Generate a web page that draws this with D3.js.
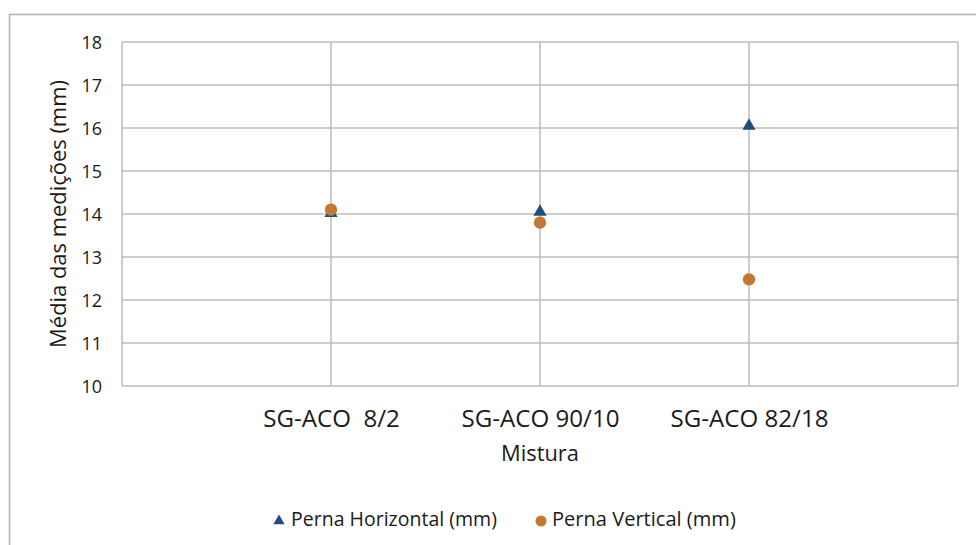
<!DOCTYPE html>
<html><head><meta charset="utf-8">
<script src="https://cdn.jsdelivr.net/npm/d3@7"></script>
<style>body{margin:0;background:#fff}svg{display:block}</style>
</head><body>
<script>
const categories = ["SG-ACO  8/2", "SG-ACO 90/10", "SG-ACO 82/18"];
const horizontal = [14.02, 14.05, 16.05];
const vertical = [14.1, 13.8, 12.48];
const yTicks = [10, 11, 12, 13, 14, 15, 16, 17, 18];
const seriesNames = ["Perna Horizontal (mm)", "Perna Vertical (mm)"];

const W = 976, H = 545;
const font = "'Open Sans', sans-serif";
const svg = d3.select("body").append("svg").attr("width", W).attr("height", H);
svg.append("rect").attr("x", 0).attr("y", 0).attr("width", W).attr("height", H).attr("fill", "#fff");
svg.append("path").attr("d", `M9.5,${H} V14.5 H${W}`).attr("fill", "none").attr("stroke", "#b0b0b0").attr("stroke-width", 1.5);

function fit(sel, target, base) {
  sel.attr("font-size", base);
  const w = sel.node().getComputedTextLength();
  sel.attr("font-size", base * target / w);
}

const L = 122, R = 958, T = 42, B = 386;
const x = d3.scaleLinear().domain([0, categories.length + 1]).range([L, R]);
const y = d3.scaleLinear().domain([10, 18]).range([B, T]);

const grid = svg.append("g").attr("stroke", "#bdbdbd").attr("stroke-width", 1.5);
yTicks.forEach(t => grid.append("line").attr("x1", L).attr("x2", R).attr("y1", y(t)).attr("y2", y(t)));
d3.range(0, categories.length + 2).forEach(i => grid.append("line").attr("x1", x(i)).attr("x2", x(i)).attr("y1", T).attr("y2", B));

const yAxis = svg.append("g").attr("transform", `translate(${L - 20},0)`)
  .call(d3.axisLeft(y).tickValues(yTicks).tickSize(0).tickPadding(0));
yAxis.select(".domain").remove();
yAxis.selectAll("text").attr("font-family", font).attr("font-size", 18).attr("fill", "#1a1a1a").attr("dy", "0.36em");

const xAxis = svg.append("g").attr("transform", `translate(0,${B})`)
  .call(d3.axisBottom(x).tickValues(d3.range(1, categories.length + 1)).tickFormat(i => categories[i - 1]).tickSize(0).tickPadding(0));
xAxis.select(".domain").remove();
xAxis.selectAll("text").attr("font-family", font).attr("fill", "#1a1a1a").attr("dy", 0).attr("y", 41).style("white-space", "pre");
const xl = xAxis.selectAll("text").nodes();
fit(d3.select(xl[1]), 158, 18);
const xfs = d3.select(xl[1]).attr("font-size");
xAxis.selectAll("text").attr("font-size", xfs);

const mt = svg.append("text").attr("x", (L + R) / 2).attr("y", 461).attr("text-anchor", "middle")
  .attr("font-family", font).attr("fill", "#1a1a1a").text("Mistura");
fit(mt, 78, 16);
const yt = svg.append("text").attr("transform", `translate(57,${(T + B) / 2}) rotate(-90)`).attr("text-anchor", "middle")
  .attr("dominant-baseline", "central")
  .attr("font-family", font).attr("fill", "#1a1a1a").text("Média das medições (mm)");
fit(yt, 268, 16);

const blue = "#1f4e79", orange = "#c47832";
const tri = d3.symbol().type(d3.symbolTriangle).size(75);
svg.append("g").selectAll("path").data(horizontal).join("path")
  .attr("d", tri).attr("fill", blue)
  .attr("transform", (d, i) => `translate(${x(i + 1)},${y(d)})`);
svg.append("g").selectAll("circle").data(vertical).join("circle")
  .attr("cx", (d, i) => x(i + 1)).attr("cy", d => y(d)).attr("r", 6.2).attr("fill", orange);

const lg = svg.append("g").attr("font-family", font).attr("fill", "#1a1a1a");
lg.append("path").attr("d", d3.symbol().type(d3.symbolTriangle).size(55)).attr("fill", blue).attr("transform", "translate(279,521)");
const t1 = lg.append("text").attr("x", 291).attr("y", 526).text(seriesNames[0]);
fit(t1, 206, 14);
lg.append("circle").attr("cx", 541).attr("cy", 521).attr("r", 5.5).attr("fill", orange);
const t2 = lg.append("text").attr("x", 552).attr("y", 526).text(seriesNames[1]);
fit(t2, 184, 14);
</script>
</body></html>
